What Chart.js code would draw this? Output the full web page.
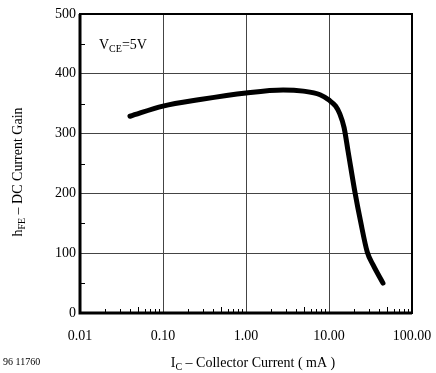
<!DOCTYPE html>
<html>
<head>
<meta charset="utf-8">
<script src="https://cdn.jsdelivr.net/npm/chart.js@4"></script>
<style>
  html, body { margin: 0; padding: 0; background: #fff; }
  #wrap { width: 436px; height: 373px; }
</style>
</head>
<body>
<div id="wrap"><canvas id="chart" width="436" height="373"></canvas></div>
<script>
// collector current (mA) and dc current gain
const icValues = [0.04, 0.1, 0.28, 1.0, 2.8, 4.9, 7.8, 10, 12.0, 13.5, 15.2, 17.0, 20.6, 24.1, 28.9, 34.1, 44.7];
const hfeValues = [329, 346, 357, 368, 373, 371, 365, 356, 346, 333, 310, 270, 201, 152, 102, 80, 50];

const xTickValues = [0.01, 0.1, 1, 10, 100];
const xTickLabels = ['0.01', '0.10', '1.00', '10.00', '100.00'];
const yMinorTicks = [50, 150, 250, 350, 450];

const SERIF = '"Liberation Serif", "DejaVu Serif", serif';

// minor ticks, frame and the texts with subscripts
const extras = {
  id: 'extras',
  afterDatasetsDraw(chart) {
    const { ctx, chartArea: a, scales: { x, y } } = chart;
    ctx.save();
    ctx.strokeStyle = '#000';
    ctx.lineWidth = 1;
    // minor x ticks
    ctx.beginPath();
    for (let d = 0; d < 4; d++) {
      for (let m = 2; m <= 9; m++) {
        const px = Math.round(x.getPixelForValue(m * Math.pow(10, d - 2))) + 0.5;
        const len = m === 5 ? 6 : 4;
        ctx.moveTo(px, a.bottom);
        ctx.lineTo(px, a.bottom - len);
      }
    }
    // minor y ticks
    yMinorTicks.forEach(v => {
      const py = Math.round(y.getPixelForValue(v)) + 0.5;
      ctx.moveTo(a.left, py);
      ctx.lineTo(a.left + 5, py);
    });
    ctx.stroke();

    // frame
    ctx.lineWidth = 2;
    ctx.strokeRect(a.left, a.top, a.right - a.left, a.bottom - a.top);
    ctx.lineWidth = 3;
    ctx.beginPath();
    ctx.moveTo(a.left, a.top);
    ctx.lineTo(a.left, a.bottom);
    ctx.lineTo(a.right, a.bottom);
    ctx.stroke();

    ctx.fillStyle = '#000';
    ctx.textBaseline = 'alphabetic';

    // V_CE=5V
    let cx = 99, cy = 49;
    ctx.font = '14px ' + SERIF;
    ctx.fillText('V', cx, cy);
    cx += ctx.measureText('V').width;
    ctx.font = '10px ' + SERIF;
    ctx.fillText('CE', cx, cy + 3);
    cx += ctx.measureText('CE').width;
    ctx.font = '14px ' + SERIF;
    ctx.fillText('=5V', cx, cy);

    // x axis title
    const parts = [['I', 14, 0], ['C', 10, 3], [' \u2013 Collector Current ( mA )', 14, 0]];
    let w = 0;
    parts.forEach(p => { ctx.font = p[1] + 'px ' + SERIF; w += ctx.measureText(p[0]).width; });
    cx = 253 - w / 2; cy = 367;
    parts.forEach(p => {
      ctx.font = p[1] + 'px ' + SERIF;
      ctx.fillText(p[0], cx, cy + p[2]);
      cx += ctx.measureText(p[0]).width;
    });

    // y axis title
    ctx.save();
    ctx.translate(22, 172);
    ctx.rotate(-Math.PI / 2);
    const yparts = [['h', 14, 0], ['FE', 10, 3], [' \u2013 DC Current Gain', 14, 0]];
    w = 0;
    yparts.forEach(p => { ctx.font = p[1] + 'px ' + SERIF; w += ctx.measureText(p[0]).width; });
    cx = -w / 2;
    yparts.forEach(p => {
      ctx.font = p[1] + 'px ' + SERIF;
      ctx.fillText(p[0], cx, p[2]);
      cx += ctx.measureText(p[0]).width;
    });
    ctx.restore();

    // figure number
    ctx.font = '10px ' + SERIF;
    ctx.fillText('96 11760', 3, 365);
    ctx.restore();
  }
};

new Chart(document.getElementById('chart'), {
  type: 'line',
  data: {
    datasets: [{
      data: icValues.map((v, i) => ({ x: v, y: hfeValues[i] })),
      borderColor: '#000',
      borderWidth: 5,
      borderCapStyle: 'round',
      borderJoinStyle: 'round',
      cubicInterpolationMode: 'monotone',
      pointRadius: 0,
      fill: false
    }]
  },
  options: {
    responsive: false,
    animation: false,
    layout: { padding: { left: 0, top: 14, right: 24, bottom: 0 } },
    plugins: { legend: { display: false }, tooltip: { enabled: false } },
    scales: {
      x: {
        type: 'logarithmic',
        min: 0.01,
        max: 100,
        afterBuildTicks: scale => { scale.ticks = xTickValues.map(v => ({ value: v })); },
        afterFit: scale => {
          scale.height = 60;
          scale.paddingLeft = 0;
          scale.paddingRight = 0;
        },
        border: { display: false },
        grid: { color: '#444', lineWidth: 1, drawTicks: false },
        ticks: {
          autoSkip: false,
          maxRotation: 0,
          padding: 15,
          color: '#000',
          font: { family: SERIF, size: 14 },
          callback: (v, i) => xTickLabels[i]
        }
      },
      y: {
        min: 0,
        max: 500,
        afterFit: scale => {
          scale.width = 80;
          scale.paddingTop = 0;
          scale.paddingBottom = 0;
        },
        border: { display: false },
        grid: { color: '#444', lineWidth: 1, drawTicks: false },
        ticks: {
          stepSize: 100,
          padding: 4,
          color: '#000',
          font: { family: SERIF, size: 14 }
        }
      }
    }
  },
  plugins: [extras]
});
</script>
</body>
</html>
